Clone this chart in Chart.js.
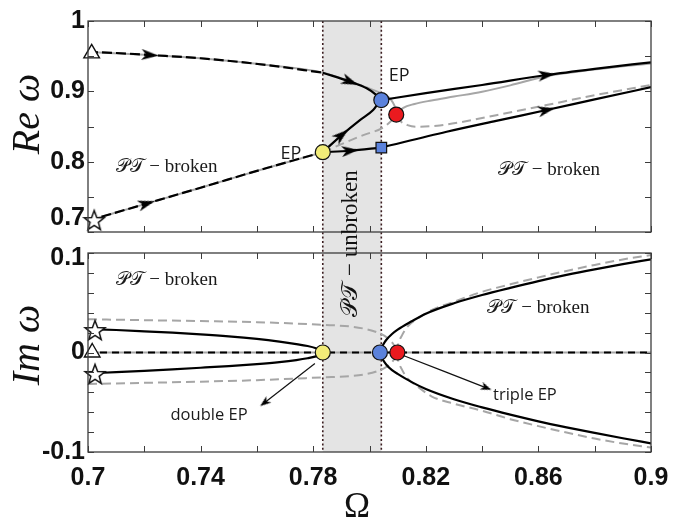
<!DOCTYPE html>
<html>
<head>
<meta charset="utf-8">
<script src="https://cdn.jsdelivr.net/npm/chart.js@4.4.1/dist/chart.umd.min.js"></script>
<style>
  html, body { margin: 0; padding: 0; background: #fff; }
  #wrap { position: relative; width: 685px; height: 524px; }
  #wrap canvas { position: absolute; left: 0; top: 0; }
</style>
</head>
<body>
<div id="wrap">
  <canvas id="reChart" width="685" height="524"></canvas>
  <canvas id="imChart" width="685" height="524"></canvas>
</div>
<script>
// ---- axes / ticks ----
var omegaTicks = [0.7, 0.72, 0.74, 0.76, 0.78, 0.8, 0.82, 0.84, 0.86, 0.88, 0.9];
var omegaLabels = ['0.7', '', '0.74', '', '0.78', '', '0.82', '', '0.86', '', '0.9'];
var reTicks = [0.7, 0.75, 0.8, 0.85, 0.9, 0.95, 1];
var reLabels = ['0.7', '0.8', '0.9', '1'];
var reLabelPos = [0.72, 0.8, 0.9, 1];     // the figure lifts "0.7" off the corner
var imTicks = [-0.1, -0.08, -0.06, -0.04, -0.02, 0, 0.02, 0.04, 0.06, 0.08, 0.1];
var imLabels = ['-0.1', '0', '0.1'];
var imLabelPos = [-0.1, 0, 0.095];

var epDouble = 0.7834;   // left dotted line
var epSingle = 0.8042;   // right dotted line

// ---- Re omega curves [Omega, Re] ----
var reUpperLeft = [[0.7,0.956],[0.71,0.9545],[0.722,0.9516],[0.74,0.947],[0.7635,0.9374],[0.7834,0.9265]];
var reLowerLeft = [[0.7,0.716],[0.7208,0.7404],[0.74,0.763],[0.7635,0.791],[0.7834,0.8135]];
var reUpperBand = [[0.7834,0.9265],[0.7931,0.9137],[0.799,0.9043],[0.8025,0.8947],[0.8042,0.8876]];
var reRiseBand = [[0.7834,0.8135],[0.7901,0.8378],[0.7966,0.8592],[0.8013,0.8734],[0.8031,0.8829],[0.8042,0.8876]];
var reFlatBand = [[0.7834,0.8135],[0.7931,0.8155],[0.8042,0.820]];
var reUpperRight = [[0.8042,0.8876],[0.82,0.8975],[0.84,0.909],[0.8629,0.9232],[0.88,0.932],[0.9,0.9413]];
var reLowerRight = [[0.8042,0.820],[0.8274,0.8425],[0.845,0.858],[0.8629,0.8734],[0.88,0.8885],[0.9,0.906]];
var reGrayNose = [[0.7,0.956],[0.722,0.9516],[0.74,0.947],[0.7635,0.9374],[0.7834,0.9265],[0.793,0.9145],[0.799,0.9055],[0.8035,0.8985],[0.8065,0.8925],[0.8083,0.884],[0.8093,0.875],[0.8097,0.868]];
var reGrayUpper = [[0.8097,0.868],[0.812,0.8765],[0.816,0.882],[0.822,0.887],[0.83,0.8925],[0.84,0.8995],[0.85,0.9085],[0.8629,0.9215],[0.875,0.9285],[0.89,0.9355],[0.9,0.9395]];
var reGrayDash = [[0.7834,0.8135],[0.7907,0.826],[0.7978,0.8378],[0.8043,0.8474],[0.8075,0.857],[0.8097,0.866],[0.8112,0.857],[0.8135,0.852],[0.8165,0.8497],[0.825,0.8515],[0.8333,0.8568],[0.845,0.866],[0.8629,0.8805],[0.88,0.8945],[0.9,0.909]];

// ---- Im omega curves [Omega, Im] ----
var imZero = [[0.7,0],[0.9,0]];
var imStarUp = [[0.7,0.0236],[0.71,0.0226],[0.72,0.0213],[0.73,0.0199],[0.74,0.0183],[0.75,0.0163],[0.76,0.0137],[0.768,0.011],[0.774,0.0085],[0.778,0.0065],[0.781,0.0043],[0.7826,0.0025],[0.7834,0]];
var imStarLow = [[0.7,-0.021],[0.71,-0.0198],[0.72,-0.0184],[0.73,-0.0169],[0.74,-0.0153],[0.75,-0.0136],[0.76,-0.0116],[0.768,-0.0096],[0.774,-0.0076],[0.778,-0.0058],[0.781,-0.0039],[0.7826,-0.0022],[0.7834,0]];
var imRightUp = [[0.804,0],[0.8043,0.004],[0.805,0.0085],[0.806,0.0128],[0.808,0.0186],[0.81,0.023],[0.815,0.0314],[0.82,0.039],[0.83,0.0495],[0.84,0.0578],[0.85,0.065],[0.86,0.0718],[0.87,0.078],[0.88,0.0836],[0.89,0.0888],[0.9,0.0937]];
var imRightLow = [[0.804,0],[0.8043,-0.004],[0.805,-0.0083],[0.806,-0.0123],[0.808,-0.0178],[0.81,-0.0215],[0.815,-0.0298],[0.82,-0.0367],[0.83,-0.047],[0.84,-0.0552],[0.85,-0.0625],[0.86,-0.0692],[0.87,-0.0752],[0.88,-0.0808],[0.89,-0.0862],[0.9,-0.0913]];
var imGrayUpLeft = [[0.7,0.0334],[0.72,0.0325],[0.74,0.0316],[0.76,0.0305],[0.7835,0.0278],[0.793,0.0262],[0.798,0.024],[0.8025,0.0205],[0.806,0.0155],[0.8082,0.0095],[0.8093,0.004],[0.8097,0]];
var imGrayLowLeft = [[0.7,-0.0317],[0.72,-0.0305],[0.74,-0.0293],[0.76,-0.0278],[0.7835,-0.025],[0.793,-0.0238],[0.798,-0.0222],[0.8025,-0.019],[0.806,-0.0145],[0.8082,-0.009],[0.8093,-0.004],[0.8097,0]];
var imGrayUpRight = [[0.8097,0],[0.8102,0.008],[0.8115,0.017],[0.8135,0.026],[0.817,0.034],[0.822,0.0425],[0.83,0.051],[0.84,0.061],[0.85,0.0685],[0.86,0.0755],[0.87,0.082],[0.88,0.088],[0.89,0.0935],[0.9,0.098]];
var imGrayLowRight = [[0.8097,0],[0.8102,-0.008],[0.8115,-0.017],[0.8135,-0.026],[0.817,-0.034],[0.822,-0.044],[0.83,-0.0515],[0.84,-0.0585],[0.85,-0.067],[0.86,-0.074],[0.87,-0.0805],[0.88,-0.0865],[0.89,-0.0915],[0.9,-0.0955]];

// ---- markers ----
var reTriangle = [[0.7013,0.954]];
var reStar = [[0.7022,0.717]];
var reDoubleEP = [[0.7834,0.8135]];
var reSingleEP = [[0.8042,0.8876]];
var reTripleEP = [[0.8095,0.867]];
var reSquare = [[0.8042,0.820]];
var imTriangle = [[0.7015,0]];
var imStars = [[0.7025,0.0226],[0.7025,-0.0215]];
var imDoubleEP = [[0.7834,0]];
var imSingleEP = [[0.8037,0]];
var imTripleEP = [[0.8099,0]];

// arrow heads: [Omega, value, Omega toward, value toward]
var reArrows = [
  [0.722,0.9516,0.74,0.947],
  [0.7208,0.7404,0.74,0.763],
  [0.7931,0.9137,0.799,0.9043],
  [0.7901,0.8378,0.7966,0.8592],
  [0.7931,0.8155,0.8042,0.820],
  [0.8629,0.9232,0.88,0.932],
  [0.8629,0.8734,0.88,0.8885]
];
var imNoteDouble = [[0.7806,-0.011],[0.7627,-0.0505]];
var imNoteTriple = [[0.812,-0.003],[0.8415,-0.0355]];
var imNoteHeads = [
  [0.7627,-0.0505,0.7448,-0.09],
  [0.8415,-0.0355,0.871,-0.068]
];

// text notes [text, Omega, value]
var reNotes = [['EP',0.7721,0.8115],['EP',0.8105,0.9225]];
var reBroken = [[0.7279,0.7923],[0.8638,0.788]];
var imNotes = [['double EP',0.743,-0.0631]];
var imNotesLeft = [['triple EP',0.8439,-0.0427]];
var imBroken = [[0.7279,0.0729],[0.86,0.0447]];

// ---- layout in pixels ----
var TOP_A = 21, BOT_A = 232, TOP_B = 253, BOT_B = 452, LEFT = 88, RIGHT_PAD = 34;

var tickFont = {family: 'Liberation Sans', size: 25, weight: 'bold'};
var mathFont = '"Liberation Serif", "DejaVu Serif", serif';

function pts(arr) {
  return arr.map(function(p){ return {x: p[0], y: p[1]}; });
}

function curve(arr, color, width, dash) {
  return {
    data: pts(arr), showLine: true, borderColor: color, borderWidth: width,
    borderDash: dash || [], pointRadius: 0, pointHoverRadius: 0, fill: false,
    cubicInterpolationMode: 'monotone'
  };
}

function marker(arr, style, radius, bg, bw) {
  return {
    data: pts(arr), showLine: false, pointStyle: style, pointRadius: radius,
    pointHoverRadius: radius, pointBackgroundColor: bg, pointBorderColor: '#111',
    pointBorderWidth: bw || 1.2, clip: false
  };
}

// star and arrow glyphs
function makeStar() {
  var c = document.createElement('canvas');
  c.width = 24; c.height = 24;
  var g = c.getContext('2d');
  g.beginPath();
  for (var i = 0; i < 10; i++) {
    var r = i % 2 === 0 ? 10.5 : 4.4;
    var a = -Math.PI / 2 + i * Math.PI / 5;
    g.lineTo(12 + r * Math.cos(a), 13 + r * Math.sin(a));
  }
  g.closePath();
  g.fillStyle = '#fff'; g.fill();
  g.lineWidth = 1.5; g.strokeStyle = '#111'; g.stroke();
  return c;
}
function makeArrow(len, wid) {
  var c = document.createElement('canvas');
  c.width = len; c.height = wid;
  var g = c.getContext('2d');
  g.beginPath();
  g.moveTo(len, wid / 2);
  g.lineTo(0, 0);
  g.lineTo(len * 0.28, wid / 2);
  g.lineTo(0, wid);
  g.closePath();
  g.fillStyle = '#000'; g.fill();
  return c;
}
var starImg = makeStar();
var arrowImg = makeArrow(17, 11);
var smallArrowImg = makeArrow(11, 8);

function arrowSet(list, img) {
  return {
    data: list.map(function(a){ return {x: a[0], y: a[1]}; }),
    showLine: false, pointStyle: img, pointRadius: 5, pointHoverRadius: 5, clip: false,
    rotation: function(ctx) {
      var a = list[ctx.dataIndex];
      if (!a) return 0;
      var xs = ctx.chart.scales.x, ys = ctx.chart.scales.y;
      var dx = xs.getPixelForValue(a[2]) - xs.getPixelForValue(a[0]);
      var dy = ys.getPixelForValue(a[3]) - ys.getPixelForValue(a[1]);
      return Math.atan2(dy, dx) * 180 / Math.PI;
    }
  };
}

function drawFrame(chart, yTicks) {
  var ctx = chart.ctx, a = chart.chartArea, x = chart.scales.x, y = chart.scales.y;
  ctx.save();
  ctx.strokeStyle = '#3c3c3c';
  ctx.lineWidth = 1.3;
  ctx.strokeRect(a.left, a.top, a.right - a.left, a.bottom - a.top);
  ctx.lineWidth = 1;
  ctx.beginPath();
  omegaTicks.forEach(function(v){
    var px = Math.round(x.getPixelForValue(v)) + 0.5;
    ctx.moveTo(px, a.bottom); ctx.lineTo(px, a.bottom - 6);
    ctx.moveTo(px, a.top); ctx.lineTo(px, a.top + 6);
  });
  yTicks.forEach(function(v){
    var py = Math.round(y.getPixelForValue(v)) + 0.5;
    ctx.moveTo(a.left, py); ctx.lineTo(a.left + 6, py);
    ctx.moveTo(a.right, py); ctx.lineTo(a.right - 6, py);
  });
  ctx.stroke();
  ctx.restore();
}

function drawText(chart, text, vx, vy, font, align) {
  var ctx = chart.ctx;
  ctx.save();
  ctx.font = font;
  ctx.fillStyle = '#1a1a1a';
  ctx.textAlign = align || 'center';
  ctx.textBaseline = 'middle';
  ctx.fillText(text, chart.scales.x.getPixelForValue(vx), chart.scales.y.getPixelForValue(vy));
  ctx.restore();
}

function drawRotated(ctx, text, px, py, font) {
  ctx.save();
  ctx.translate(px, py);
  ctx.rotate(-Math.PI / 2);
  ctx.font = font;
  ctx.fillStyle = '#111';
  ctx.textAlign = 'center';
  ctx.textBaseline = 'middle';
  ctx.fillText(text, 0, 0);
  ctx.restore();
}

var brokenText = '\uD835\uDCAB\uD835\uDCAF \u2212 broken';
var unbrokenText = '\uD835\uDCAB\uD835\uDCAF \u2212 unbroken';

var reDecor = {
  id: 'reDecor',
  beforeDatasetsDraw: function(chart) {
    var ctx = chart.ctx, a = chart.chartArea, x = chart.scales.x;
    var x1 = x.getPixelForValue(epDouble), x2 = x.getPixelForValue(epSingle);
    ctx.save();
    ctx.fillStyle = '#e4e4e4';
    ctx.fillRect(x1, a.top, x2 - x1, BOT_B - a.top);
    ctx.strokeStyle = '#3a1c1f';
    ctx.lineWidth = 1.6;
    ctx.setLineDash([2, 2.4]);
    [x1, x2].forEach(function(px){
      ctx.beginPath(); ctx.moveTo(px, a.top); ctx.lineTo(px, BOT_B); ctx.stroke();
    });
    ctx.restore();
  },
  afterDraw: function(chart) {
    drawFrame(chart, reTicks);
    var ctx = chart.ctx, x = chart.scales.x;
    drawRotated(ctx, 'Re \u03C9', 28, 114, 'italic 40px ' + mathFont);
    drawRotated(ctx, unbrokenText, x.getPixelForValue(0.7934), 243.5, '23px ' + mathFont);
    reNotes.forEach(function(n){ drawText(chart, n[0], n[1], n[2], '18px "Open Sans"'); });
    reBroken.forEach(function(n){ drawText(chart, brokenText, n[0], n[1], '19px ' + mathFont); });
  }
};

var imDecor = {
  id: 'imDecor',
  afterDraw: function(chart) {
    drawFrame(chart, imTicks);
    var ctx = chart.ctx;
    drawRotated(ctx, 'Im \u03C9', 28, 345, 'italic 40px ' + mathFont);
    ctx.save();
    ctx.font = '35px ' + mathFont;
    ctx.fillStyle = '#111';
    ctx.textAlign = 'center';
    ctx.textBaseline = 'middle';
    ctx.fillText('\u03A9', 357, 508);
    ctx.restore();
    imNotes.forEach(function(n){ drawText(chart, n[0], n[1], n[2], '16.5px "Open Sans"'); });
    imNotesLeft.forEach(function(n){ drawText(chart, n[0], n[1], n[2], '16.5px "Open Sans"', 'left'); });
    imBroken.forEach(function(n){ drawText(chart, brokenText, n[0], n[1], '19px ' + mathFont); });
  }
};

function xScale(show) {
  var s = {
    type: 'linear', min: 0.7, max: 0.9, display: show,
    grid: {display: false, drawTicks: false}, border: {display: false},
    afterBuildTicks: function(s){ s.ticks = omegaTicks.map(function(v){ return {value: v}; }); },
    ticks: {
      autoSkip: false, maxRotation: 0, padding: 11, color: '#111', font: tickFont,
      callback: function(v, i){ return omegaLabels[i]; }
    }
  };
  if (show) s.afterFit = function(sc){ sc.height = 50; };
  return s;
}

function yScale(min, max, pos, labels) {
  return {
    type: 'linear', min: min, max: max,
    grid: {display: false, drawTicks: false}, border: {display: false},
    afterBuildTicks: function(s){ s.ticks = pos.map(function(v){ return {value: v}; }); },
    afterFit: function(s){ s.width = LEFT; },
    ticks: {
      autoSkip: false, padding: 3, color: '#111', font: tickFont,
      callback: function(v, i){ return labels[i]; }
    }
  };
}

var GRAY = '#a6a6a6';
var DASH = [9, 5];

new Chart(document.getElementById('reChart').getContext('2d'), {
  type: 'scatter',
  data: {
    datasets: [
      marker(reDoubleEP, 'circle', 7.5, '#f2ec78'),
      marker(reSingleEP, 'circle', 7.5, '#5b82dc'),
      marker(reTripleEP, 'circle', 7.5, '#ea1a1f'),
      marker(reSquare, 'rect', 7.5, '#5b82dc'),
      marker(reTriangle, 'triangle', 9, '#fff', 1.4),
      marker(reStar, starImg, 10, '#fff'),
      arrowSet(reArrows, arrowImg),
      curve(reUpperBand, '#000', 2.2),
      curve(reRiseBand, '#000', 2.2),
      curve(reFlatBand, '#000', 2.2),
      curve(reUpperRight, '#000', 2.2),
      curve(reLowerRight, '#000', 2.2),
      curve(reUpperLeft, '#000', 2.2, [10, 4]),
      curve(reLowerLeft, '#000', 2.2, [10, 4]),
      curve(reGrayDash, GRAY, 2, DASH),
      curve(reGrayNose, GRAY, 2),
      curve(reGrayUpper, GRAY, 2),
      curve(reLowerLeft, GRAY, 2)
    ]
  },
  options: {
    responsive: false, animation: false,
    layout: {padding: {top: TOP_A, bottom: 524 - BOT_A, left: 0, right: RIGHT_PAD}},
    plugins: {legend: {display: false}, tooltip: {enabled: false}},
    scales: {
      x: xScale(false),
      y: yScale(0.7, 1, reLabelPos, reLabels)
    }
  },
  plugins: [reDecor]
});

new Chart(document.getElementById('imChart').getContext('2d'), {
  type: 'scatter',
  data: {
    datasets: [
      marker(imDoubleEP, 'circle', 7.5, '#f2ec78'),
      marker(imSingleEP, 'circle', 7.5, '#5b82dc'),
      marker(imTripleEP, 'circle', 7.5, '#ea1a1f'),
      marker(imTriangle, 'triangle', 9, '#fff', 1.4),
      marker(imStars, starImg, 10, '#fff'),
      arrowSet(imNoteHeads, smallArrowImg),
      curve(imNoteDouble, '#111', 1.2),
      curve(imNoteTriple, '#111', 1.2),
      curve(imStarUp, '#000', 2.2),
      curve(imStarLow, '#000', 2.2),
      curve(imRightUp, '#000', 2.2),
      curve(imRightLow, '#000', 2.2),
      curve(imZero, '#000', 2.2, [7, 5]),
      curve(imGrayUpLeft, GRAY, 2, DASH),
      curve(imGrayLowLeft, GRAY, 2, DASH),
      curve(imGrayUpRight, GRAY, 2, DASH),
      curve(imGrayLowRight, GRAY, 2, DASH),
      curve(imZero, GRAY, 2)
    ]
  },
  options: {
    responsive: false, animation: false,
    layout: {padding: {top: TOP_B, bottom: 22, left: 0, right: RIGHT_PAD}},
    plugins: {legend: {display: false}, tooltip: {enabled: false}},
    scales: {
      x: xScale(true),
      y: yScale(-0.1, 0.1, imLabelPos, imLabels)
    }
  },
  plugins: [imDecor]
});
</script>
</body>
</html>
